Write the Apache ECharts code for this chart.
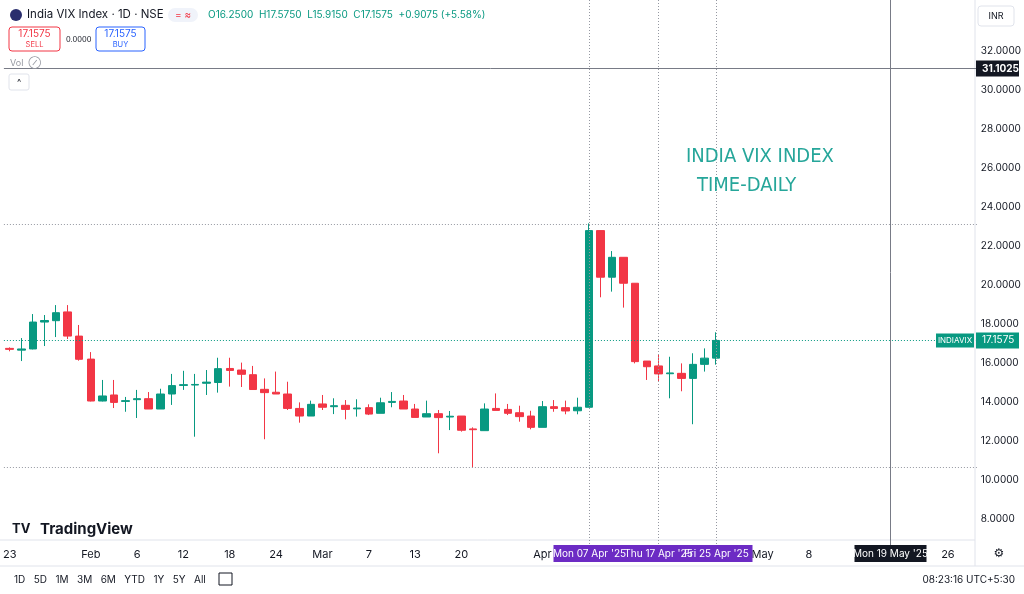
<!DOCTYPE html>
<html><head><meta charset="utf-8">
<script src="https://cdn.jsdelivr.net/npm/echarts@6/dist/echarts.min.js"></script>
<style>html,body{margin:0;padding:0;background:#fff}#c{width:1024px;height:594px}</style>
</head><body><div id="c"></div>
<script>
const dates = ['Jan 23','Jan 24','Jan 27','Jan 28','Jan 29','Jan 30','Jan 31','Feb 1','Feb 3','Feb 4','Feb 5','Feb 6','Feb 7','Feb 10','Feb 11','Feb 12','Feb 13','Feb 14','Feb 17','Feb 18','Feb 19','Feb 20','Feb 21','Feb 24','Feb 25','Feb 27','Feb 28','Mar 3','Mar 4','Mar 5','Mar 6','Mar 7','Mar 10','Mar 11','Mar 12','Mar 13','Mar 17','Mar 18','Mar 19','Mar 20','Mar 21','Mar 24','Mar 25','Mar 26','Mar 27','Mar 28','Apr 1','Apr 2','Apr 3','Apr 4','Apr 7','Apr 8','Apr 9','Apr 11','Apr 15','Apr 16','Apr 17','Apr 21','Apr 22','Apr 23','Apr 24','Apr 25',
'Apr 28','Apr 29','Apr 30','May 2','May 5','May 6','May 7','May 8','May 9','May 12','May 13','May 14','May 15','May 16','May 19','May 20','May 21','May 22','May 23','May 26','May 27','May 28'];
const opens  = [16.75,16.66,16.72,18.10,18.17,18.62,17.38,16.20,14.05,14.36,14.03,14.12,14.17,13.64,14.41,14.85,14.87,14.96,15.00,15.72,15.64,15.40,14.65,14.50,14.41,13.67,13.28,13.90,13.76,13.83,13.65,13.71,13.42,13.98,14.05,13.64,13.23,13.40,13.23,13.28,12.62,12.53,13.67,13.62,13.45,13.28,12.70,13.76,13.71,13.55,13.73,22.79,20.40,21.42,20.09,16.10,15.85,15.45,15.47,15.21,15.93,16.25];
const closes = [16.70,16.72,18.10,18.18,18.58,17.38,16.19,14.05,14.31,13.98,14.07,14.17,13.64,14.41,14.84,14.89,14.90,15.02,15.71,15.62,15.42,14.64,14.48,14.41,13.67,13.28,13.88,13.73,13.81,13.62,13.69,13.38,13.96,14.03,13.64,13.21,13.40,13.20,13.27,12.55,12.58,13.64,13.57,13.42,13.25,12.70,13.76,13.67,13.54,13.73,22.79,20.40,21.42,20.09,16.07,15.81,15.44,15.49,15.21,15.93,16.25,17.1575];
const lows   = [16.60,16.10,16.70,16.87,17.33,17.23,16.12,14.03,14.03,13.69,13.50,13.18,13.64,13.64,13.85,14.62,12.22,14.36,14.48,14.79,14.77,14.62,12.09,14.41,13.59,12.94,13.28,13.59,13.38,13.11,13.25,13.33,13.42,13.73,13.64,13.21,13.23,11.37,12.56,12.48,10.63,12.53,13.57,13.33,12.99,12.60,12.70,13.50,13.37,13.37,13.73,19.37,19.66,18.84,15.98,15.13,15.04,14.19,14.55,12.86,15.56,15.915];
const highs  = [16.80,17.28,18.51,18.46,18.97,18.97,17.95,16.56,15.13,15.13,14.26,14.62,14.51,14.68,15.44,15.60,15.44,15.64,16.27,16.27,16.02,15.85,15.21,15.56,15.04,13.98,14.07,14.36,14.19,14.10,14.14,13.88,14.22,14.51,14.36,13.90,14.07,13.59,13.54,13.28,12.70,13.93,14.44,13.90,13.81,13.55,14.05,14.10,14.07,14.22,23.16,22.79,21.74,21.42,20.09,16.10,16.41,16.32,15.98,16.50,16.75,17.575];
const tickLabels = {'Jan 23':'23','Feb 1':'Feb','Feb 6':'6','Feb 12':'12','Feb 18':'18','Feb 24':'24','Mar 3':'Mar','Mar 7':'7','Mar 13':'13','Mar 20':'20','Apr 1':'Apr','May 2':'May','May 8':'8','May 26':'26'};
const markDates = [['Apr 7',"Mon 07 Apr '25",'#6c2bc4',true],['Apr 17',"Thu 17 Apr '25",'#6c2bc4',true],['Apr 25',"Fri 25 Apr '25",'#6c2bc4',true],['May 19',"Mon 19 May '25",'#131722',false]];
const lastPrice = 17.1575, crossPrice = 31.1025, hiLine = 23.13, loLine = 10.67;

const UP='#089981', DN='#f23645';
const candle = opens.map((o,i)=>[o,closes[i],lows[i],highs[i]]);
const chart = echarts.init(document.getElementById('c'));
const F = 'Inter, "Noto Sans", sans-serif';
chart.setOption({
  animation:false,
  grid:{left:-2,right:44,top:51,bottom:75},
  xAxis:{type:'category',data:dates,boundaryGap:true,
    axisLine:{show:false},axisTick:{show:false},splitLine:{show:false},
    axisLabel:{interval:0,margin:30,color:'#131722',fontSize:11,fontFamily:F,
      formatter:v=>tickLabels[v]||''}},
  yAxis:{type:'value',position:'right',min:8,max:32,interval:2,scale:false,
    axisLine:{show:false},axisTick:{show:false},splitLine:{show:false},
    axisLabel:{align:'left',margin:4,color:'#131722',fontSize:10,fontFamily:F,formatter:v=>v.toFixed(4)}},
  series:[{type:'candlestick',data:candle,barWidth:8,
    itemStyle:{color:UP,color0:DN,borderColor:UP,borderColor0:DN,borderWidth:1},
    markLine:{symbol:'none',silent:true,label:{show:false},
      data:[
        {yAxis:hiLine,lineStyle:{color:'#9598a1',type:[1,2],width:1}},
        {yAxis:loLine,lineStyle:{color:'#9598a1',type:[1,2],width:1}},
        {yAxis:lastPrice,lineStyle:{color:UP,type:[1,2],width:1}},
        {yAxis:crossPrice,lineStyle:{color:'#787b86',type:'solid',width:1}}
      ]}}]
});
const px=(d,v)=>chart.convertToPixel({xAxisIndex:0,yAxisIndex:0},[d,v]);
const g=[];
// frame lines
g.push({type:'line',shape:{x1:0,y1:540,x2:975,y2:540},style:{stroke:'#e0e3eb',lineWidth:1}});
g.push({type:'line',shape:{x1:975,y1:0,x2:975,y2:566},style:{stroke:'#e0e3eb',lineWidth:1}});
g.push({type:'line',shape:{x1:0,y1:566,x2:1024,y2:566},style:{stroke:'#e0e3eb',lineWidth:1}});
// date tags + vertical lines
markDates.forEach(([d,t,c,dotted])=>{const x=Math.round(px(d,10)[0])+0.5;
  g.push({type:'line',z:5,shape:{x1:x,y1:0,x2:x,y2:545},style:{stroke:dotted?'#9598a1':'#787b86',lineWidth:1,lineDash:dotted?[1,2]:null}});
  g.push({type:'rect',z:50,shape:{x:x-36,y:545,width:72,height:17},style:{fill:c}});
  g.push({type:'text',z:51,x:x,y:553.5,style:{text:t,fill:'#fff',font:'10px '+F,align:'center',verticalAlign:'middle'}});
});
// horizontal crosshair extends across
let y=px('Apr 25',crossPrice)[1];
g.push({type:'rect',z:50,shape:{x:976,y:y-8,width:43,height:16},style:{fill:'#131722'}});
g.push({type:'text',z:51,x:982,y:y,style:{text:crossPrice.toFixed(4),fill:'#fff',font:'bold 10px '+F,verticalAlign:'middle'}});
y=px('Apr 25',lastPrice)[1];
g.push({type:'rect',z:50,shape:{x:976,y:y-8,width:43,height:16},style:{fill:UP}});
g.push({type:'text',z:51,x:982,y:y,style:{text:lastPrice.toFixed(4),fill:'#fff',font:'10px '+F,verticalAlign:'middle'}});
g.push({type:'rect',z:50,shape:{x:936,y:y-7,width:38,height:14},style:{fill:UP}});
g.push({type:'text',z:51,x:955,y:y,style:{text:'INDIAVIX',fill:'#fff',font:'8px '+F,align:'center',verticalAlign:'middle'}});
// annotation
g.push({type:'text',z:40,x:686,y:157,style:{text:'INDIA VIX INDEX',fill:'#26a69a',font:'20px "Liberation Sans Narrow", "DejaVu Sans Condensed", sans-serif',verticalAlign:'middle'}});
g.push({type:'text',z:40,x:697,y:186,style:{text:'TIME-DAILY',fill:'#26a69a',font:'20px "Liberation Sans Narrow", "DejaVu Sans Condensed", sans-serif',verticalAlign:'middle'}});
// header
g.push({type:'rect',z:60,shape:{x:0,y:0,width:974,height:50},style:{fill:'rgba(255,255,255,0)'}});
g.push({type:'circle',z:60,shape:{cx:16,cy:15,r:6},style:{fill:'#2a2e6e'}});
g.push({type:'text',z:60,x:27,y:15,style:{text:'India VIX Index · 1D · NSE',fill:'#131722',font:'11.5px '+F,verticalAlign:'middle'}});
g.push({type:'rect',z:60,shape:{x:168,y:8,width:30,height:14,r:7},style:{fill:'#f0f3fa'}});
g.push({type:'text',z:61,x:183,y:15,style:{text:'= ≈',fill:'#f23645',font:'10px '+F,align:'center',verticalAlign:'middle'}});
g.push({type:'text',z:60,x:208,y:15,style:{text:'O16.2500  H17.5750  L15.9150  C17.1575  +0.9075 (+5.58%)',fill:UP,font:'10px '+F,verticalAlign:'middle'}});
g.push({type:'rect',z:60,shape:{x:9,y:27,width:51,height:24,r:3},style:{fill:'#fff',stroke:'#f23645',lineWidth:1}});
g.push({type:'text',z:61,x:34.5,y:34,style:{text:'17.1575',fill:'#f23645',font:'10px '+F,align:'center',verticalAlign:'middle'}});
g.push({type:'text',z:61,x:34.5,y:45,style:{text:'SELL',fill:'#f23645',font:'7.5px '+F,align:'center',verticalAlign:'middle'}});
g.push({type:'text',z:60,x:66,y:40,style:{text:'0.0000',fill:'#131722',font:'7.5px '+F,verticalAlign:'middle'}});
g.push({type:'rect',z:60,shape:{x:96,y:27,width:49,height:24,r:3},style:{fill:'#fff',stroke:'#2962ff',lineWidth:1}});
g.push({type:'text',z:61,x:120.5,y:34,style:{text:'17.1575',fill:'#2962ff',font:'10px '+F,align:'center',verticalAlign:'middle'}});
g.push({type:'text',z:61,x:120.5,y:45,style:{text:'BUY',fill:'#2962ff',font:'7.5px '+F,align:'center',verticalAlign:'middle'}});
g.push({type:'text',z:60,x:10,y:63,style:{text:'Vol  ⊘',fill:'#9598a1',font:'9px '+F,verticalAlign:'middle'}});
g.push({type:'rect',z:60,shape:{x:9,y:74,width:20,height:16,r:2},style:{fill:'#fff',stroke:'#e0e3eb'}});
g.push({type:'text',z:61,x:19,y:82,style:{text:'^',fill:'#131722',font:'9px '+F,align:'center',verticalAlign:'middle'}});
g.push({type:'rect',z:60,shape:{x:978,y:6,width:36,height:20,r:3},style:{fill:'#fff',stroke:'#e0e3eb'}});
g.push({type:'text',z:61,x:996,y:16,style:{text:'INR',fill:'#131722',font:'9px '+F,align:'center',verticalAlign:'middle'}});
// logo
g.push({type:'text',x:12,y:529,style:{text:'TV',fill:'#131722',font:'bold 13px '+F,verticalAlign:'middle'}});
g.push({type:'text',x:40,y:529,style:{text:'TradingView',fill:'#131722',font:'bold 15px '+F,verticalAlign:'middle'}});
g.push({type:'text',x:999,y:554,style:{text:'⚙',fill:'#131722',font:'12px "DejaVu Sans"',align:'center',verticalAlign:'middle'}});
// bottom toolbar
g.push({type:'text',x:14,y:580,style:{text:'1D   5D   1M   3M   6M   YTD   1Y   5Y   All',fill:'#131722',font:'10px '+F,verticalAlign:'middle'}});
g.push({type:'rect',shape:{x:219,y:573,width:13,height:12},style:{fill:'none',stroke:'#131722'}});
g.push({type:'text',x:1015,y:580,style:{text:'08:23:16 UTC+5:30',fill:'#131722',font:'10px '+F,align:'right',verticalAlign:'middle'}});
chart.setOption({graphic:g});
</script></body></html>
